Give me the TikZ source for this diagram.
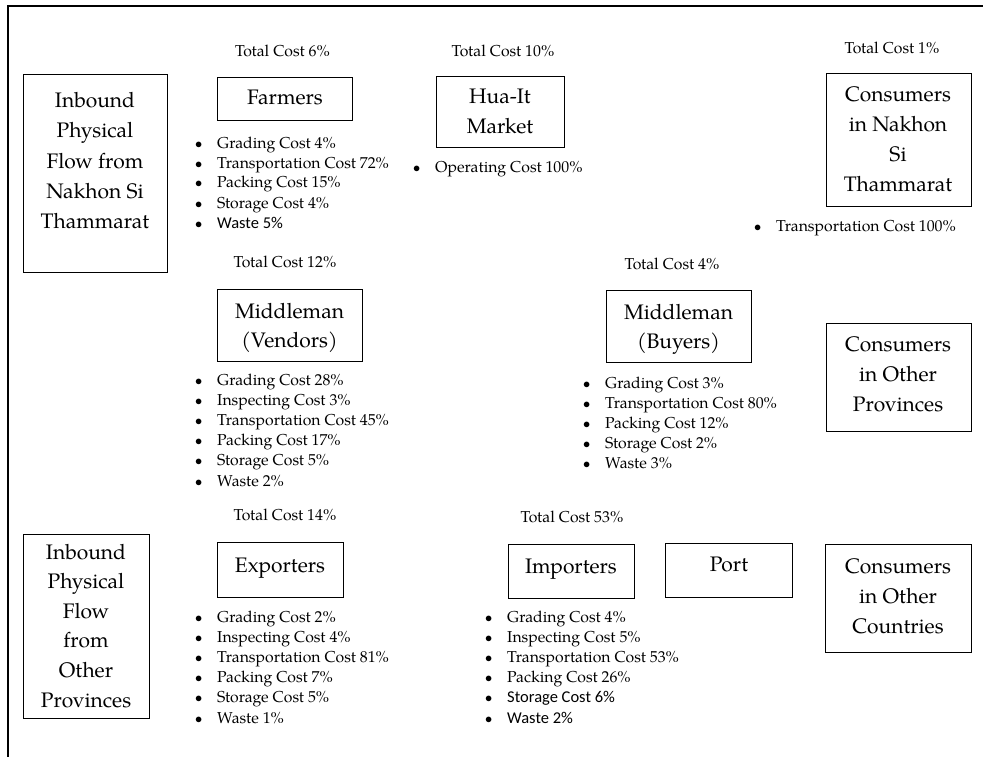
\documentclass[tikz,border=0pt]{standalone}
\usepackage{fontspec}
\IfFontExistsTF{TeX Gyre Pagella}{\setmainfont{TeX Gyre Pagella}}{\setmainfont{Liberation Serif}}
\newfontfamily\carlito{Carlito}
% one bullet item inside a cost list
\newcommand\itm[1]{\llap{$\bullet$\hspace{15pt}}#1}
% items set in the sans face
\newcommand\sansitm[1]{\itm{{\carlito\fontsize{16.5}{20}\selectfont #1}}}
\begin{document}
\begin{tikzpicture}[x=1pt,y=-1pt,
  box/.style={draw, line width=0.9pt, inner sep=0pt},
  big/.style={font=\fontsize{21}{30}\selectfont, align=center, inner sep=0pt, anchor=base},
  total/.style={font=\fontsize{15.8}{20}\selectfont, inner sep=0pt, anchor=base},
  lst/.style={font=\fontsize{15.8}{20.2}\selectfont, align=left, inner sep=0pt, anchor=base west},
  frameline/.style={line width=1.3pt, line cap=rect}]
\useasboundingbox (0,0) rectangle (983,757);

% outer frame: top and left edges only
\coordinate (fr-tl) at (8,6);
\coordinate (fr-tr) at (983,6);
\coordinate (fr-bl) at (8,757);
\draw[frameline] (fr-tr) -- (fr-tl) -- (fr-bl);

% ---- boxes ----
\node[box, minimum width=144, minimum height=198] (inbnst) at (95,173) {};
\node[box, minimum width=135, minimum height=43]  (farmers) at (284.5,98.5) {};
\node[box, minimum width=128, minimum height=71]  (huait) at (500,111.5) {};
\node[box, minimum width=145, minimum height=133] (connst) at (898.5,139.5) {};
\node[box, minimum width=145, minimum height=72]  (vendors) at (289.5,325) {};
\node[box, minimum width=145, minimum height=72]  (buyers) at (678.5,326) {};
\node[box, minimum width=145, minimum height=108] (conop) at (898.5,377) {};
\node[box, minimum width=126, minimum height=184] (inbop) at (86,626) {};
\node[box, minimum width=126, minimum height=55]  (exporters) at (280,569.5) {};
\node[box, minimum width=126, minimum height=54]  (importers) at (571,571) {};
\node[box, minimum width=127, minimum height=54]  (port) at (728.5,570) {};
\node[box, minimum width=146, minimum height=108] (concount) at (898,598) {};

% ---- box labels (anchored at the baseline of the last line) ----
\node[big, font=\fontsize{21}{30.5}\selectfont] (inbnst-t) at (95,229) {Inbound\\Physical\\Flow from\\Nakhon Si\\Thammarat};
\node[big] (farmers-t) at (285,105) {Farmers};
\node[big] (huait-t) at (500,134) {Hua-It\\Market};
\node[big] (connst-t) at (898,192) {Consumers\\in Nakhon\\Si\\Thammarat};
\node[big, font=\fontsize{21}{29}\selectfont] (vendors-t) at (289.5,347) {Middleman\\(Vendors)};
\node[big, font=\fontsize{21}{29}\selectfont] (buyers-t) at (678.5,348) {Middleman\\(Buyers)};
\node[big] (conop-t) at (898,411) {Consumers\\in Other\\Provinces};
\node[big, font=\fontsize{21}{29.6}\selectfont] (inbop-t) at (86,707) {Inbound\\Physical\\Flow\\from\\Other\\Provinces};
\node[big] (exporters-t) at (280,572) {Exporters};
\node[big] (importers-t) at (571,573) {Importers};
\node[big] (port-t) at (729,571) {Port};
\node[big] (concount-t) at (898,633) {Consumers\\in Other\\Countries};

% ---- total cost labels ----
\node[total] (tc-farmers) at (282.5,57) {Total Cost 6\%};
\node[total] (tc-huait) at (503,57) {Total Cost 10\%};
\node[total] (tc-connst) at (892,54) {Total Cost 1\%};
\node[total] (tc-vendors) at (285,267) {Total Cost 12\%};
\node[total] (tc-buyers) at (672,269) {Total Cost 4\%};
\node[total] (tc-exporters) at (285,520) {Total Cost 14\%};
\node[total] (tc-importers) at (572,522) {Total Cost 53\%};

% ---- cost breakdowns (anchored at the baseline of the last line) ----
\node[lst, font=\fontsize{15.8}{20}\selectfont] (farmers-l) at (217,228) {\itm{Grading Cost 4\%}\\
  \itm{Transportation Cost 72\%}\\
  \itm{Packing Cost 15\%}\\
  \itm{Storage Cost 4\%}\\
  \sansitm{Waste 5\%}};
\node[lst] (huait-l) at (435,172) {\itm{Operating Cost 100\%}};
\node[lst] (connst-l) at (776,231) {\itm{Transportation Cost 100\%}};
\node[lst] (vendors-l) at (217,486) {\itm{Grading Cost 28\%}\\
  \itm{Inspecting Cost 3\%}\\
  \itm{Transportation Cost 45\%}\\
  \itm{Packing Cost 17\%}\\
  \itm{Storage Cost 5\%}\\
  \itm{Waste 2\%}};
\node[lst, font=\fontsize{15.8}{20}\selectfont] (buyers-l) at (605,468) {\itm{Grading Cost 3\%}\\
  \itm{Transportation Cost 80\%}\\
  \itm{Packing Cost 12\%}\\
  \itm{Storage Cost 2\%}\\
  \itm{Waste 3\%}};
\node[lst] (exporters-l) at (217,723) {\itm{Grading Cost 2\%}\\
  \itm{Inspecting Cost 4\%}\\
  \itm{Transportation Cost 81\%}\\
  \itm{Packing Cost 7\%}\\
  \itm{Storage Cost 5\%}\\
  \itm{Waste 1\%}};
\node[lst] (importers-l) at (507,723) {\itm{Grading Cost 4\%}\\
  \itm{Inspecting Cost 5\%}\\
  \itm{Transportation Cost 53\%}\\
  \itm{Packing Cost 26\%}\\
  \sansitm{Storage Cost 6\%}\\
  \sansitm{Waste 2\%}};
\end{tikzpicture}
\end{document}
